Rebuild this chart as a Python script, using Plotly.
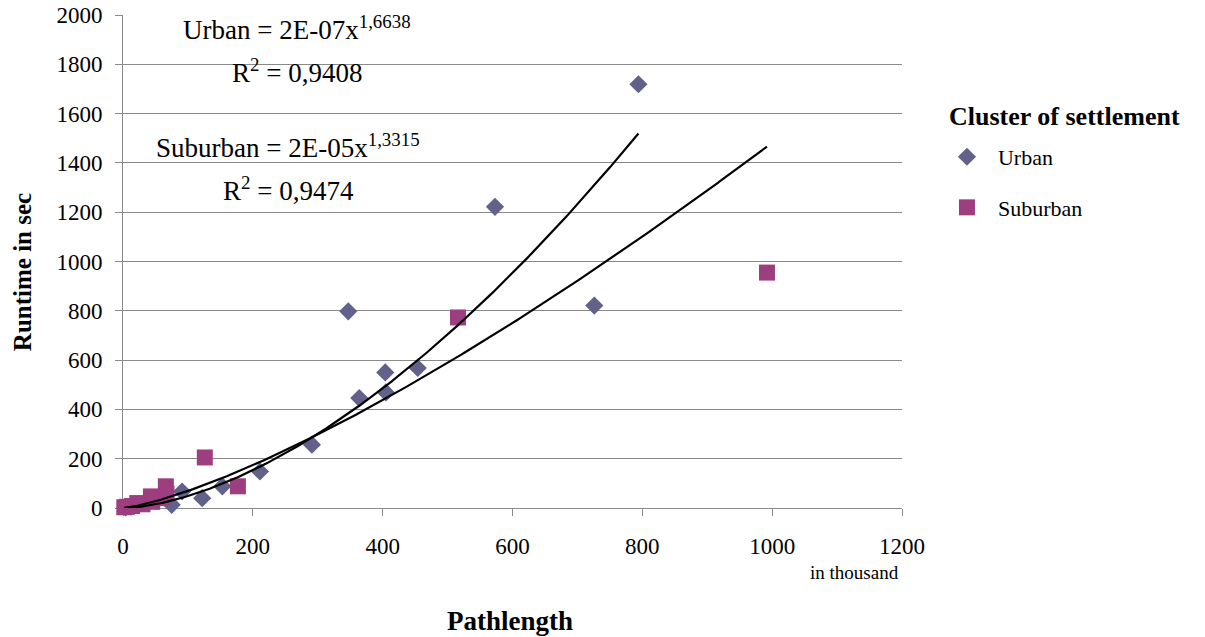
import numpy as np
import plotly.graph_objects as go

# Pathlength (in thousand) and runtime (sec) per settlement cluster
urban_x = [4, 75, 91, 122, 153, 211, 291, 347, 364, 404, 405, 454, 573, 726, 794]
urban_y = [2, 13, 67, 40, 88, 148, 257, 798, 446, 550, 469, 568, 1222, 821, 1719]

suburban_x = [2, 6, 14, 22, 30, 43, 45, 60, 66, 67, 126, 177, 516, 992]
suburban_y = [3, 5, 8, 20, 15, 47, 25, 40, 88, 58, 205, 88, 773, 955]

# Power trend lines  y = a * pathlength^b  (pathlength in units, not thousands)
urban_coef, urban_exp = 2.32e-7, 1.6638
suburban_coef, suburban_exp = 1.52e-5, 1.3315

urban_eq = "Urban = 2E-07x<sup>1,6638</sup>"
urban_r2 = "R<sup>2</sup> = 0,9408"
suburban_eq = "Suburban = 2E-05x<sup>1,3315</sup>"
suburban_r2 = "R<sup>2</sup> = 0,9474"

y_ticks = list(range(0, 2001, 200))
x_ticks = list(range(0, 1201, 200))

SERIF = "Liberation Serif, Times New Roman, serif"
GRID = "#8a8a8a"
URBAN_COLOR = "#616189"
SUBURBAN_COLOR = "#9D3E80"


def power_curve(xs, a, b):
    xx = np.linspace(min(xs), max(xs), 300)
    return xx, a * (xx * 1000.0) ** b


fig = go.Figure()

fig.add_trace(go.Scatter(
    x=urban_x, y=urban_y, mode="markers", name="Urban", legendgroup="u",
    marker=dict(symbol="diamond", size=14, color=URBAN_COLOR),
    cliponaxis=False,
))
fig.add_trace(go.Scatter(
    x=suburban_x, y=suburban_y, mode="markers", name="Suburban", legendgroup="s",
    marker=dict(symbol="square", size=16, color=SUBURBAN_COLOR),
    cliponaxis=False,
))

ux, uy = power_curve(urban_x, urban_coef, urban_exp)
sx, sy = power_curve(suburban_x, suburban_coef, suburban_exp)
fig.add_trace(go.Scatter(x=ux, y=uy, mode="lines", showlegend=False,
                         line=dict(color="black", width=2.2), hoverinfo="skip"))
fig.add_trace(go.Scatter(x=sx, y=sy, mode="lines", showlegend=False,
                         line=dict(color="black", width=2.2), hoverinfo="skip"))

# white label boxes that interrupt the gridlines behind the equations
fig.add_shape(type="rect", xref="paper", yref="paper", layer="between",
              x0=0.0763, x1=0.379, y0=0.808, y1=1.02,
              fillcolor="white", line=dict(width=0))
fig.add_shape(type="rect", xref="paper", yref="paper", layer="between",
              x0=0.0391, x1=0.383, y0=0.584, y1=0.771,
              fillcolor="white", line=dict(width=0))

eq_font = dict(family=SERIF, size=27, color="black")
for txt, xp, yp in [(urban_eq, 0.224, 0.9729), (urban_r2, 0.224, 0.8865),
                    (suburban_eq, 0.212, 0.7350), (suburban_r2, 0.212, 0.6477)]:
    fig.add_annotation(text=txt, xref="paper", yref="paper", x=xp, y=yp,
                       xanchor="center", yanchor="middle", showarrow=False,
                       font=eq_font)

# axis titles, unit note and legend heading
fig.add_annotation(text="<b>Runtime in sec</b>", xref="paper", yref="paper",
                   x=-0.128, y=0.479, textangle=-90, showarrow=False,
                   xanchor="center", yanchor="middle",
                   font=dict(family=SERIF, size=25, color="black"))
fig.add_annotation(text="<b>Pathlength</b>", xref="paper", yref="paper",
                   x=0.497, y=-0.229, showarrow=False,
                   xanchor="center", yanchor="middle",
                   font=dict(family=SERIF, size=27, color="black"))
fig.add_annotation(text="in thousand", xref="paper", yref="paper",
                   x=0.939, y=-0.131, showarrow=False,
                   xanchor="center", yanchor="middle",
                   font=dict(family=SERIF, size=19, color="black"))
fig.add_annotation(text="<b>Cluster of settlement</b>", xref="paper", yref="paper",
                   x=1.058, y=0.7932, showarrow=False,
                   xanchor="left", yanchor="middle",
                   font=dict(family=SERIF, size=26, color="black"))

axis_font = dict(family=SERIF, size=23, color="black")
fig.update_xaxes(range=[0, 1200], tickvals=x_ticks, ticktext=[str(v) for v in x_ticks],
                 showgrid=False, zeroline=False, showline=True, linecolor=GRID,
                 linewidth=1, ticks="outside", ticklen=7, tickcolor=GRID,
                 tickfont=axis_font, ticklabelstandoff=10, layer="below traces",
                 automargin=False)
fig.update_yaxes(range=[0, 2000], tickvals=y_ticks, ticktext=[str(v) for v in y_ticks],
                 showgrid=True, gridcolor=GRID, gridwidth=1, zeroline=False,
                 showline=True, linecolor=GRID, linewidth=1, ticks="outside",
                 ticklen=7, tickcolor=GRID, tickfont=axis_font,
                 ticklabelstandoff=8, layer="below traces", automargin=False)

fig.update_layout(
    width=1205, height=637,
    margin=dict(l=122.5, r=303, t=15, b=128.7, autoexpand=False),
    paper_bgcolor="white", plot_bgcolor="white",
    font=dict(family=SERIF, color="black"),
    legend=dict(
        font=dict(family=SERIF, size=22, color="black"),
        x=1.0436, y=0.7547, xanchor="left", yanchor="top",
        itemwidth=52, tracegroupgap=19, bgcolor="rgba(0,0,0,0)",
    ),
)

fig.write_html("out.html")
